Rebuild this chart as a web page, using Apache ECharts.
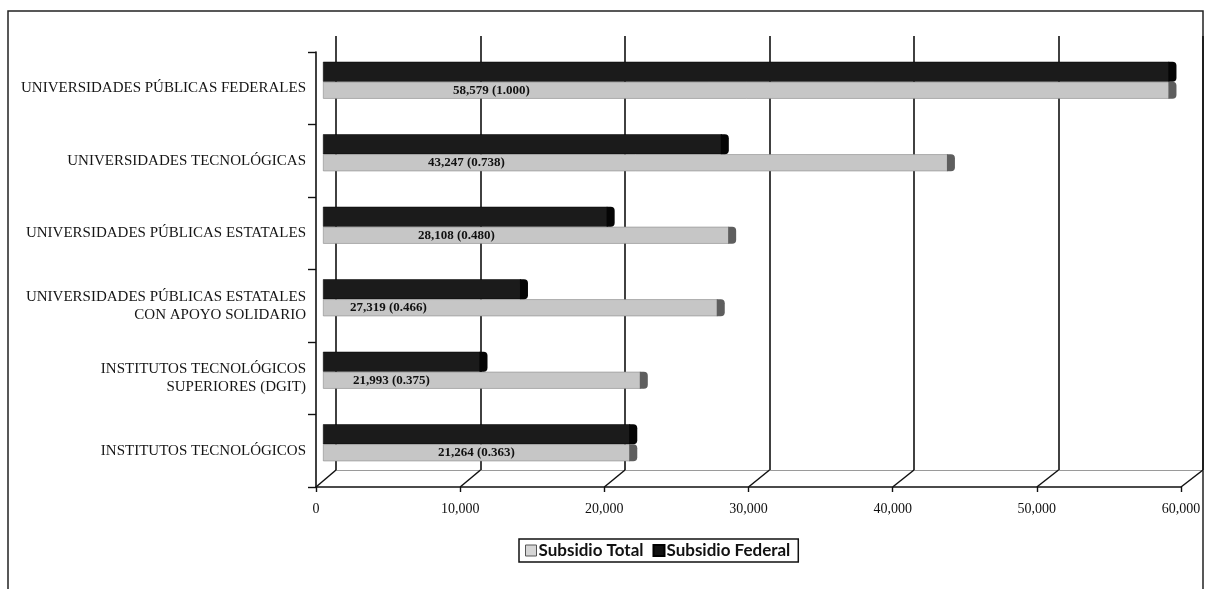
<!DOCTYPE html>
<html>
<head>
<meta charset="utf-8">
<script src="https://cdn.jsdelivr.net/npm/echarts@6/dist/echarts.min.js"></script>
<style>
  html, body { margin: 0; padding: 0; background: #fff; }
  #chart { width: 1206px; height: 589px; }
</style>
</head>
<body>
<div id="chart"></div>
<script>
// Subsidio total y federal por subsistema (pesos por alumno)
const categories = [
  'UNIVERSIDADES PÚBLICAS FEDERALES',
  'UNIVERSIDADES TECNOLÓGICAS',
  'UNIVERSIDADES PÚBLICAS ESTATALES',
  'UNIVERSIDADES PÚBLICAS ESTATALES\nCON APOYO SOLIDARIO',
  'INSTITUTOS TECNOLÓGICOS\nSUPERIORES (DGIT)',
  'INSTITUTOS TECNOLÓGICOS'
];
const subsidioTotal = [58579, 43247, 28108, 27319, 21993, 21264];
const indiceTotal = ['1.000', '0.738', '0.480', '0.466', '0.375', '0.363'];
const subsidioFederal = [58579, 27600, 19700, 13700, 10900, 21264];
const valueTicks = [0, 10000, 20000, 30000, 40000, 50000, 60000];

// label placement along each total bar (px from bar start)
const labelShift = [130, 105, 95, 27, 30, 115];

const fmt = v => v.toLocaleString('en-US');
const SERIF = '"Liberation Serif", "DejaVu Serif", serif';

const DARK = '#1b1b1b';
const LIGHT = '#c6c6c6';

const chart = echarts.init(document.getElementById('chart'), null, { renderer: 'canvas' });

// bar thickness in px (federal above, total below)
const FED_H = 20, TOT_H = 17;

function capSeries(name, values, color, top, h) {
  return {
    type: 'custom',
    name: name,
    xAxisIndex: 1, yAxisIndex: 1,
    silent: true,
    z: 3,
    data: values.map((v, i) => [v, i]),
    encode: { x: 0, y: 1 },
    renderItem: function (params, api) {
      const p = api.coord([api.value(0), api.value(1)]);
      return {
        type: 'rect',
        shape: { x: p[0] - 1, y: p[1] + top, width: 8, height: h, r: [0, 4, 4, 0] },
        style: { fill: color }
      };
    }
  };
}

const option = {
  animation: false,
  backgroundColor: '#fff',
  grid: [
    // back wall
    { left: 336, width: 867, top: 36, height: 434 },
    // bars (mid depth)
    { left: 323, width: 867, top: 44, height: 435 },
    // front axes
    { left: 316, width: 865, top: 52, height: 435 }
  ],
  xAxis: [
    {
      gridIndex: 0, type: 'value', min: 0, max: 60000, interval: 10000,
      axisLine: { show: true, lineStyle: { color: '#9a9a9a', width: 1 } },
      axisTick: { show: false }, axisLabel: { show: false },
      splitLine: { show: true, lineStyle: { color: '#111', width: 1.6 } }
    },
    {
      gridIndex: 1, type: 'value', min: 0, max: 60000, interval: 10000,
      show: false
    },
    {
      gridIndex: 2, type: 'value', min: 0, max: 60000, interval: 10000,
      axisLine: { show: true, lineStyle: { color: '#111', width: 1.6 } },
      axisTick: { show: true, inside: false, length: 5, lineStyle: { color: '#111', width: 1.4 } },
      splitLine: { show: false },
      axisLabel: {
        margin: 15, color: '#111', fontFamily: SERIF, fontSize: 14,
        formatter: v => fmt(v)
      }
    }
  ],
  yAxis: [
    { gridIndex: 0, type: 'category', data: categories, inverse: true, show: false },
    { gridIndex: 1, type: 'category', data: categories, inverse: true, show: false },
    {
      gridIndex: 2, type: 'category', data: categories, inverse: true,
      axisLine: { show: true, lineStyle: { color: '#111', width: 1.6 } },
      axisTick: { show: true, length: 8, lineStyle: { color: '#111', width: 1.4 } },
      splitLine: { show: false },
      axisLabel: {
        margin: 10, color: '#151515', fontFamily: SERIF, fontSize: 15,
        lineHeight: 18, align: 'right'
      }
    }
  ],
  legend: {
    top: 539, left: 519,
    data: [
      { name: 'Subsidio Total', itemStyle: { color: '#d6d6d6', borderColor: '#555', borderWidth: 1 } },
      { name: 'Subsidio Federal', itemStyle: { color: '#111' } }
    ],
    icon: 'rect',
    itemWidth: 11, itemHeight: 11, itemGap: 9,
    borderColor: '#111', borderWidth: 1.5, padding: [3, 8, 3, 6],
    textStyle: { fontFamily: 'Lato, "Open Sans", sans-serif', fontWeight: 'bold', fontSize: 17, color: '#111', padding: [0, 0, 0, -3] }
  },
  series: [
    {
      name: 'Subsidio Federal', type: 'bar',
      xAxisIndex: 1, yAxisIndex: 1,
      data: subsidioFederal,
      barWidth: FED_H, barGap: '0%',
      itemStyle: { color: DARK, borderColor: '#000', borderWidth: 0.5 },
      z: 2
    },
    {
      name: 'Subsidio Total', type: 'bar',
      xAxisIndex: 1, yAxisIndex: 1,
      data: subsidioTotal.map((v, i) => ({
        value: v,
        label: { distance: labelShift[i] }
      })),
      barWidth: TOT_H, barGap: '0%',
      itemStyle: { color: LIGHT, borderColor: '#8a8a8a', borderWidth: 0.6 },
      label: {
        show: true, position: 'insideLeft',
        color: '#111', fontFamily: SERIF, fontWeight: 'bold', fontSize: 13,
        formatter: p => fmt(subsidioTotal[p.dataIndex]) + ' (' + indiceTotal[p.dataIndex] + ')'
      },
      z: 2
    },
    capSeries('capFederal', subsidioFederal, '#050505', -(FED_H + TOT_H) / 2, FED_H),
    capSeries('capTotal', subsidioTotal, '#5e5e5e', -(FED_H + TOT_H) / 2 + FED_H, TOT_H)
  ]
};

chart.setOption(option);

// floor edges joining the front scale to the back wall, plus the outer frame
const floor = [];
const frontBottom = 487, backBottom = 470;
valueTicks.forEach(v => {
  const xf = chart.convertToPixel({ xAxisIndex: 2 }, v);
  const xb = chart.convertToPixel({ xAxisIndex: 0 }, v);
  floor.push({
    type: 'line', silent: true, z: 5,
    shape: { x1: xf, y1: frontBottom, x2: xb, y2: backBottom },
    style: { stroke: '#111', lineWidth: 1.5 }
  });
});
floor.push({
  type: 'rect', silent: true, z: -1,
  shape: { x: 8, y: 11, width: 1195, height: 600 },
  style: { fill: null, stroke: '#222', lineWidth: 1.5 }
});
chart.setOption({ graphic: floor });
</script>
</body>
</html>
